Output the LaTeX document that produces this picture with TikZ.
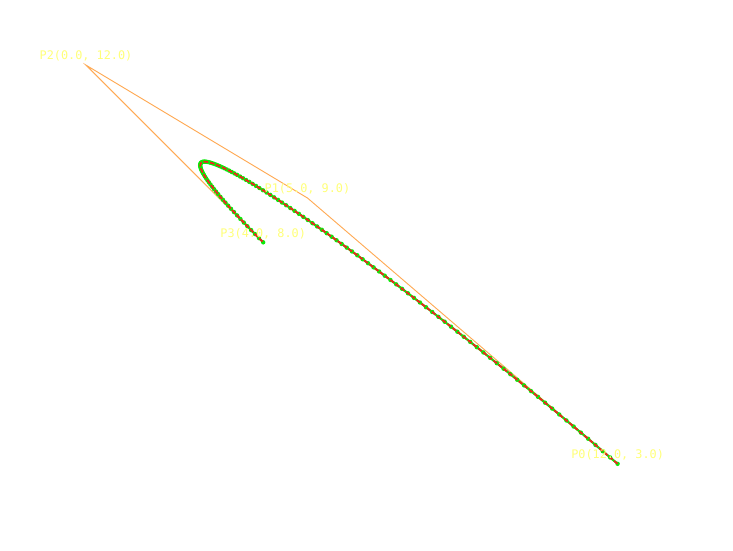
\documentclass[tikz,border=0pt]{standalone}
\usepackage{fontspec}
\setmonofont{DejaVu Sans Mono}
\begin{document}
\begin{tikzpicture}[x=1cm,y=1cm,
  poly/.style={draw=ctrlorange,line width=0.6pt},
  lbl/.style={text=lblyellow,font=\ttfamily\fontsize{7.6}{8}\selectfont,inner sep=0pt,anchor=center},
  redcurve/.style={draw=curvered,line width=1.1pt,dash pattern=on 3pt off 1.2pt},
  greencurve/.style={draw=curvegreen,line width=1.4pt},
  gdot/.style={fill=curvegreen}
]
\definecolor{ctrlorange}{RGB}{255,170,85}
\definecolor{lblyellow}{RGB}{255,255,120}
\definecolor{curvered}{RGB}{245,30,30}
\definecolor{curvegreen}{RGB}{10,235,10}
\useasboundingbox (-1.941,1.054) rectangle (14.605,13.47);
\coordinate (P0) at (12,3);
\coordinate (P1) at (5,9);
\coordinate (P2) at (0,12);
\coordinate (P3) at (4,8);
\draw[poly] (P0) -- (P1) -- (P2) -- (P3);
\draw[greencurve] (P0) .. controls (P1) and (P2) .. (P3);
\foreach \i in {0,...,125}{
  \pgfmathsetmacro\t{\i/125}
  \pgfmathsetmacro\u{1-\t}
  \pgfmathsetmacro\bx{12*\u*\u*\u+15*\u*\u*\t+4*\t*\t*\t}
  \pgfmathsetmacro\by{3*\u*\u*\u+27*\u*\u*\t+36*\u*\t*\t+8*\t*\t*\t}
  \fill[gdot] (\bx,\by) circle (0.05);
}
\draw[redcurve] (P0) .. controls (P1) and (P2) .. (P3);
\node[lbl] (L0) at ([yshift=0.2cm]P0) {P0(12.0, 3.0)};
\node[lbl] (L1) at ([yshift=0.2cm]P1) {P1(5.0, 9.0)};
\node[lbl] (L2) at ([yshift=0.22cm]P2) {P2(0.0, 12.0)};
\node[lbl] (L3) at ([yshift=0.2cm]P3) {P3(4.0, 8.0)};
\end{tikzpicture}
\end{document}
